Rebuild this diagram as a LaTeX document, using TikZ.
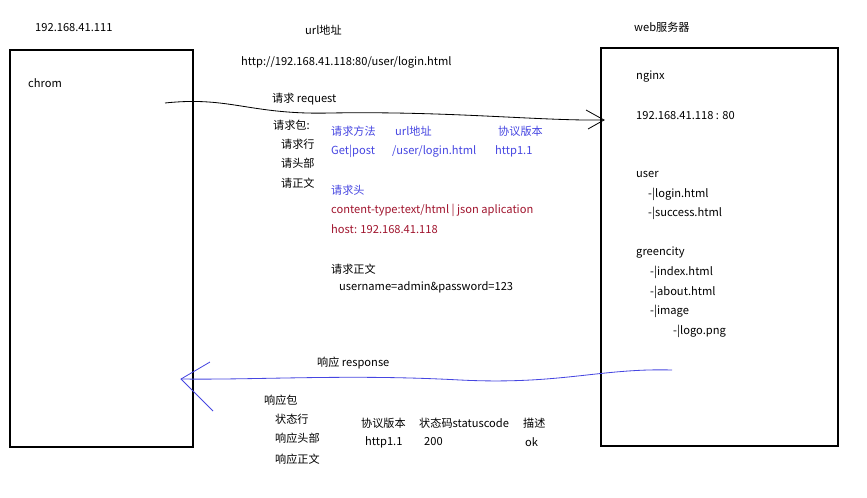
\documentclass[tikz,border=0pt]{standalone}
\usepackage{fontspec}
\setmainfont{Noto Sans CJK SC}
\usetikzlibrary{calc}
\definecolor{reqblue}{RGB}{70,70,225}
\definecolor{hdrred}{RGB}{160,20,45}
\tikzset{
  txt/.style={anchor=west,inner sep=0pt,font=\fontsize{9.5}{10}\selectfont},
  box/.style={draw,line width=1.4pt},
}
\begin{document}
\begin{tikzpicture}[x=0.03cm,y=-0.03cm]
\useasboundingbox (0,0) rectangle (867,497);

\draw[box] (10,50) rectangle (193,447);
\draw[box] (601,48) rectangle (838,446);

\coordinate (m0) at (165,103);
\coordinate (m1) at (604,120);
\coordinate (m2) at (672,370);
\coordinate (m3) at (181,379);

\node[txt] (client) at (35,28) {192.168.41.111};
\node[txt] (urlt) at (305,30) {url地址};
\node[txt] (url) at (241,62) {http://192.168.41.118:80/user/login.html};
\node[txt] (server) at (634,27) {web服务器};
\node[txt] (chrom) at (28,83) {chrom};
\node[txt] (nginx) at (636,77) {nginx};
\node[txt] (ip) at (636,116) {192.168.41.118 : 80};

\node[txt] (req) at (272,99) {请求 request};
\node[txt] (reqp) at (273,125) {请求包:};
\node[txt] (reql) at (281,144) {请求行};
\node[txt] (reqh) at (281,163) {请头部};
\node[txt] (reqb) at (281,183) {请正文};

\node[txt,reqblue] (meth) at (331,131) {请求方法};
\node[txt,reqblue] (urlc) at (395,131) {url地址};
\node[txt,reqblue] (prot) at (498,131) {协议版本};
\node[txt,reqblue] (methv) at (331,151) {Get|post};
\node[txt,reqblue] (urlv) at (392,151) {/user/login.html};
\node[txt,reqblue] (protv) at (495,151) {http1.1};
\node[txt,reqblue] (hdr) at (331,190) {请求头};
\node[txt,hdrred] (ctype) at (331,210) {content-type:text/html | json aplication};
\node[txt,hdrred] (host) at (331,229) {host: 192.168.41.118};
\node[txt] (body) at (331,269) {请求正文};
\node[txt] (bodyv) at (339,287) {username=admin\&password=123};

\node[txt] (user) at (636,174) {user};
\node[txt] (login) at (648,194) {-|login.html};
\node[txt] (succ) at (648,213) {-|success.html};
\node[txt] (green) at (636,253) {greencity};
\node[txt] (index) at (650,272) {-|index.html};
\node[txt] (about) at (650,292) {-|about.html};
\node[txt] (image) at (650,311) {-|image};
\node[txt] (logo) at (673,331) {-|logo.png};

\node[txt] (resp) at (317,363) {响应 response};
\node[txt] (respp) at (264,400) {响应包};
\node[txt] (respl) at (275,419) {状态行};
\node[txt] (resph) at (275,438) {响应头部};
\node[txt] (respb) at (275,459) {响应正文};
\node[txt] (sprot) at (361,423) {协议版本};
\node[txt] (scode) at (419,423) {状态码statuscode};
\node[txt] (sdesc) at (523,423) {描述};
\node[txt] (sprotv) at (365,442) {http1.1};
\node[txt] (scodev) at (424,442) {200};
\node[txt] (sdescv) at (525,442) {ok};

% request
\draw[line width=0.7pt] (m0) .. controls (230,96) and (250,115) .. (330,113)
  .. controls (450,111) and (540,121) .. (m1);
\draw[line width=0.7pt] (586,110) -- (m1) -- (588,129);

% response
\draw[reqblue,line width=0.7pt] (m2) .. controls (600,368) and (560,385) .. (460,380)
  .. controls (350,374) and (260,380) .. (m3);
\draw[reqblue,line width=0.7pt] (210,362) -- (m3) -- (213,411);
\end{tikzpicture}
\end{document}
